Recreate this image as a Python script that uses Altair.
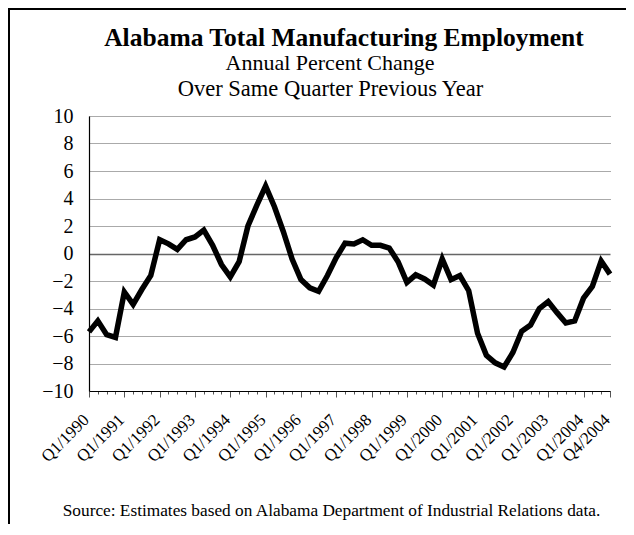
import json
import altair as alt
import pandas as pd

# ---------------- data ----------------
years = list(range(1990, 2005))
quarters = ["Q1", "Q2", "Q3", "Q4"]
pct_change = [
    -5.7, -4.9, -5.9, -6.1,    # 1990
    -2.8, -3.7, -2.6, -1.6,    # 1991
    1.0, 0.7, 0.3, 1.0,        # 1992
    1.2, 1.7, 0.6, -0.8,       # 1993
    -1.7, -0.6, 2.0, 3.5,      # 1994
    4.9, 3.4, 1.6, -0.4,       # 1995
    -1.9, -2.5, -2.75, -1.6,   # 1996
    -0.3, 0.75, 0.7, 1.0,      # 1997
    0.6, 0.6, 0.4, -0.6,       # 1998
    -2.1, -1.55, -1.85, -2.3,  # 1999
    -0.4, -1.9, -1.6, -2.7,    # 2000
    -5.8, -7.4, -7.95, -8.25,  # 2001
    -7.2, -5.65, -5.2, -4.0,   # 2002
    -3.5, -4.3, -5.05, -4.9,   # 2003
    -3.25, -2.4, -0.55, -1.5,  # 2004
]
tick_labels = ["Q1/1990", "Q1/1991", "Q1/1992", "Q1/1993", "Q1/1994", "Q1/1995",
               "Q1/1996", "Q1/1997", "Q1/1998", "Q1/1999", "Q1/2000", "Q1/2001",
               "Q1/2002", "Q1/2003", "Q1/2004", "Q4/2004"]
y_ticks = list(range(-10, 11, 2))

title_text = "Alabama Total Manufacturing Employment"
subtitle_1 = "Annual Percent Change"
subtitle_2 = "Over Same Quarter Previous Year"
source_text = "Source:  Estimates based on Alabama Department of Industrial Relations data."

periods = [f"{q}/{y}" for y in years for q in quarters]
df = pd.DataFrame({"idx": list(range(len(periods))), "period": periods, "value": pct_change})
label_arr = [p if p in tick_labels else "" for p in periods]
major_idx = [i for i, p in enumerate(periods) if p in tick_labels]

FONT = "Liberation Serif"
W, H = 521, 275

one = pd.DataFrame({"a": [0]})

x_axis = alt.Axis(
    values=list(range(len(periods))),
    labelExpr=json.dumps(label_arr) + "[datum.value]",
    labelAngle=-45, labelAlign="right", labelBaseline="middle",
    labelFont=FONT, labelFontSize=17, labelColor="black",
    labelPadding=20, labelOffset=-3, labelOverlap=False, labelFlush=False, labelBound=False,
    tickSize={"condition": {"test": "indexof(" + json.dumps(major_idx) + ", datum.value) >= 0", "value": 6}, "value": 3},
    tickColor="#555", tickWidth=1,
    domain=True, domainColor="black", domainWidth=1.2, grid=False, title=None,
    zindex=1,
)
y_axis = alt.Axis(
    values=y_ticks, labelFont=FONT, labelFontSize=20, labelColor="black",
    labelPadding=16, ticks=False, labelOverlap=False,
    labelFlush=False, labelBound=False,
    domain=True, domainColor="black", domainWidth=1.2,
    grid=True,
    gridDash={"condition": {"test": "datum.value === 0", "value": []}, "value": [1, 1]},
    gridColor={"condition": {"test": "datum.value === 0", "value": "#666"}, "value": "#555"},
    gridWidth={"condition": {"test": "datum.value === 0", "value": 1.5}, "value": 1},
    gridOpacity=1,
    title=None,
)

frame = alt.Chart(one).mark_rect(fillOpacity=0, stroke="black", strokeWidth=2).encode(
    x=alt.value(-80), x2=alt.value(700), y=alt.value(-107), y2=alt.value(600)
)

line = alt.Chart(df).mark_line(color="black", strokeWidth=5.5, strokeJoin="miter").encode(
    x=alt.X("idx:Q", scale=alt.Scale(domain=[0, len(periods) - 1], nice=False, zero=False), axis=x_axis),
    y=alt.Y("value:Q", scale=alt.Scale(domain=[-10, 10], nice=False), axis=y_axis),
)

def txt(text, x, y, size, weight="normal"):
    return alt.Chart(one).mark_text(
        text=text, font=FONT, fontSize=size, fontWeight=weight, color="black",
        align="center", baseline="alphabetic"
    ).encode(x=alt.value(x), y=alt.value(y))

t1 = txt(title_text, 255, -70, 25.5, "bold")
t2 = txt(subtitle_1, 241, -46, 22)
t3 = txt(subtitle_2, 241.5, -20, 22.5)
src = txt(source_text, 242.5, 400, 17.3)

chart = alt.layer(frame, line, t1, t2, t3, src).properties(
    width=W, height=H,
    autosize=alt.AutoSizeParams(type="none"),
    padding={"left": 81, "top": 108, "right": 16, "bottom": 133},
    background="white",
).configure_view(stroke=None)

chart.save("out.html", embed_options={"renderer": "svg", "actions": False})
